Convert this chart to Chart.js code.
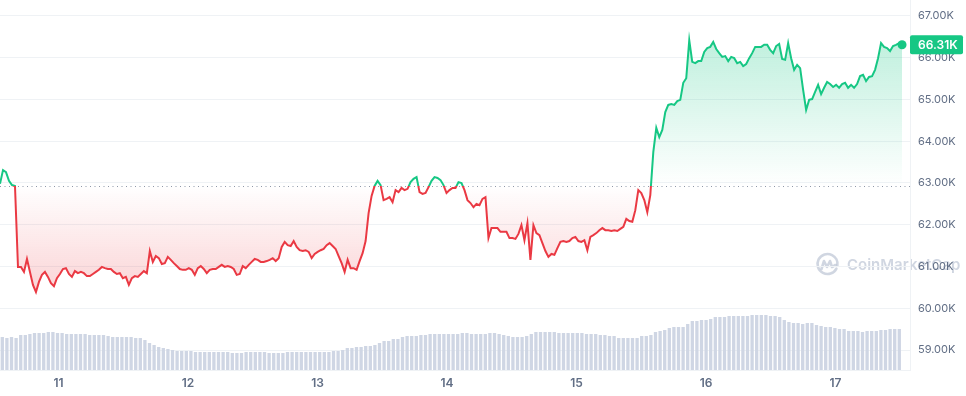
<!DOCTYPE html>
<html>
<head>
<meta charset="utf-8">
<script src="https://cdn.jsdelivr.net/npm/chart.js@4/dist/chart.umd.min.js"></script>
<style>
  html, body { margin: 0; padding: 0; background: #ffffff; }
  #wrap { width: 966px; height: 396px; }
</style>
</head>
<body>
<div id="wrap"><canvas id="c" width="966" height="396"></canvas></div>
<script>
// ---- Data (BTC price, 7 days, in thousands USD) ----
const startDay = 10.548;          // time of first sample (day of month)
const priceStepDay = 0.023141;    // days between price samples
const prices = [
  62.98, 63.31, 63.26, 63.05, 62.95, 62.93, 60.99, 60.99, 60.87, 61.18,
  60.87, 60.56, 60.39, 60.63, 60.80, 60.87, 60.75, 60.60, 60.53, 60.72,
  60.82, 60.94, 60.96, 60.82, 60.75, 60.89, 60.84, 60.87, 60.84, 60.77,
  60.77, 60.82, 60.87, 60.92, 60.99, 60.96, 60.94, 60.94, 60.87, 60.82,
  60.84, 60.72, 60.75, 60.56, 60.72, 60.77, 60.75, 60.82, 60.89, 60.84,
  61.37, 61.11, 61.25, 61.20, 61.06, 61.08, 61.23, 61.16, 61.08, 61.01,
  60.94, 60.92, 60.92, 60.96, 60.92, 60.80, 60.96, 61.01, 60.94, 60.84,
  60.92, 60.94, 60.94, 60.99, 61.04, 60.99, 61.01, 60.99, 60.94, 60.80,
  60.82, 61.01, 60.96, 61.04, 61.11, 61.18, 61.16, 61.11, 61.11, 61.13,
  61.16, 61.20, 61.13, 61.20, 61.47, 61.59, 61.51, 61.49, 61.61, 61.47,
  61.39, 61.37, 61.39, 61.35, 61.20, 61.30, 61.35, 61.39, 61.42, 61.51,
  61.56, 61.49, 61.42, 61.25, 61.08, 60.87, 61.16, 60.96, 60.96, 60.92,
  61.13, 61.32, 61.61, 62.28, 62.69, 62.93, 63.05, 62.95, 62.59, 62.62,
  62.66, 62.54, 62.83, 62.78, 62.88, 62.83, 62.86, 63.02, 63.10, 63.14,
  62.78, 62.74, 62.76, 62.90, 63.05, 63.14, 63.12, 63.07, 62.95, 62.76,
  62.83, 62.88, 62.88, 63.02, 63.00, 62.83, 62.59, 62.52, 62.42, 62.50,
  62.47, 62.62, 62.66, 61.68, 61.92, 61.92, 61.92, 61.83, 61.83, 61.83,
  61.68, 61.68, 61.66, 61.78, 61.99, 61.63, 62.04, 61.16, 61.99, 61.80,
  61.75, 61.56, 61.37, 61.23, 61.30, 61.28, 61.44, 61.59, 61.61, 61.59,
  61.61, 61.68, 61.71, 61.61, 61.59, 61.63, 61.39, 61.71, 61.75, 61.80,
  61.87, 61.92, 61.87, 61.87, 61.85, 61.87, 61.85, 61.90, 61.95, 62.14,
  62.09, 62.07, 62.35, 62.83, 62.76, 62.59, 62.30, 62.71, 63.74, 64.32,
  64.10, 64.27, 64.70, 64.87, 64.89, 64.87, 64.96, 64.99, 65.40, 65.51,
  66.42, 65.90, 65.87, 65.92, 65.92, 66.14, 66.23, 66.26, 66.38, 66.21,
  66.11, 66.02, 66.04, 65.92, 66.02, 65.99, 65.87, 65.90, 65.80, 65.85,
  65.99, 66.11, 66.26, 66.26, 66.26, 66.31, 66.31, 66.19, 66.11, 66.28,
  66.33, 65.97, 65.95, 66.35, 65.99, 65.71, 65.83, 65.75, 65.23, 64.75,
  64.99, 65.01, 65.18, 65.35, 65.13, 65.28, 65.42, 65.37, 65.30, 65.35,
  65.28, 65.37, 65.40, 65.28, 65.35, 65.28, 65.37, 65.56, 65.59, 65.44,
  65.54, 65.56, 65.71, 65.99, 66.35, 66.26, 66.23, 66.16, 66.28, 66.31,
  66.35, 66.31
];
const baselinePrice = 62.93;      // reference (opening) price, dotted line

// Volume bars (billions USD, relative)
const volStartDay = 10.5658;
const volStepDay = 0.035521;
const volumes = [
  33, 32, 33, 32, 35, 35, 36, 37, 37, 37,
  38, 38, 37, 37, 36, 36, 36, 36, 36, 35,
  35, 35, 35, 34, 33, 33, 33, 33, 33, 32,
  32, 30, 27, 25, 23, 22, 21, 20, 19, 19,
  19, 19, 18, 18, 18, 18, 18, 18, 18, 18,
  17, 17, 17, 18, 18, 18, 18, 18, 17, 17,
  17, 17, 18, 18, 18, 18, 18, 18, 18, 18,
  18, 18, 19, 19, 20, 22, 22, 23, 23, 24,
  24, 25, 27, 29, 29, 31, 31, 33, 34, 34,
  34, 35, 35, 36, 36, 36, 36, 36, 36, 36,
  37, 37, 36, 36, 36, 36, 37, 37, 36, 35,
  34, 33, 33, 33, 34, 36, 38, 38, 38, 38,
  38, 37, 37, 37, 37, 37, 37, 36, 36, 36,
  35, 35, 34, 34, 32, 32, 32, 32, 32, 34,
  34, 35, 38, 39, 40, 42, 43, 43, 43, 46,
  49, 49, 50, 50, 51, 53, 53, 53, 54, 54,
  54, 54, 54, 55, 55, 55, 55, 54, 54, 53,
  50, 48, 47, 47, 46, 47, 47, 45, 44, 43,
  43, 42, 41, 41, 39, 39, 39, 38, 39, 39,
  39, 40, 40, 41, 41, 41
];

// Axis ticks
const dayTicks = [11, 12, 13, 14, 15, 16, 17];
const priceTicks = [59, 60, 61, 62, 63, 64, 65, 66, 67];
const axisMinDay = 10.548, axisMaxDay = 17.575;
const axisMinPrice = 58.521, axisMaxPrice = 67.383;
const volAxisMax = 370;

const GREEN = '#16c784', RED = '#ea3943';

const priceData = prices.map((p, i) => ({ x: startDay + i * priceStepDay, y: p }));
const volData = volumes.map((v, i) => ({ x: volStartDay + i * volStepDay, y: v }));
const lastIdx = prices.length - 1;

const decor = {
  id: 'decor',
  beforeDraw(chart) {
    const ctx = chart.ctx;
    ctx.save();
    // watermark
    const cx = 827.5, cy = 264;
    ctx.strokeStyle = 'rgba(170,181,201,0.55)';
    ctx.lineWidth = 2.6;
    ctx.lineCap = 'round'; ctx.lineJoin = 'round';
    ctx.beginPath();
    ctx.arc(cx, cy, 10, 0.15 * Math.PI, 2.05 * Math.PI);
    ctx.stroke();
    ctx.beginPath();
    ctx.moveTo(cx - 6, cy + 5);
    ctx.lineTo(cx - 3.5, cy - 3);
    ctx.lineTo(cx - 0.5, cy + 3);
    ctx.lineTo(cx + 2.5, cy - 3);
    ctx.lineTo(cx + 4.5, cy + 3);
    ctx.lineTo(cx + 8, cy + 1);
    ctx.stroke();
    ctx.fillStyle = 'rgba(170,181,201,0.55)';
    ctx.font = '600 15px Inter';
    ctx.textBaseline = 'middle';
    ctx.fillText('CoinMarketCap', 847, cy + 1);
    ctx.restore();
  },
  beforeDatasetsDraw(chart) {
    const ctx = chart.ctx, a = chart.chartArea;
    const y = Math.round(chart.scales.y.getPixelForValue(baselinePrice)) + 0.5;
    ctx.save();
    ctx.strokeStyle = '#8f98a8';
    ctx.lineWidth = 1;
    ctx.setLineDash([1, 3.5]);
    ctx.beginPath();
    ctx.moveTo(a.left, y);
    ctx.lineTo(a.right, y);
    ctx.stroke();
    ctx.restore();
  },
  afterDraw(chart) {
    const ctx = chart.ctx, a = chart.chartArea;
    const y = chart.scales.y.getPixelForValue(prices[lastIdx]);
    ctx.save();
    ctx.fillStyle = GREEN;
    const x0 = a.right, w = 53, h = 19;
    ctx.beginPath();
    if (ctx.roundRect) ctx.roundRect(x0, y - h / 2, w, h, 2); else ctx.rect(x0, y - h / 2, w, h);
    ctx.fill();
    ctx.fillStyle = '#ffffff';
    ctx.font = '600 12px Inter';
    ctx.textBaseline = 'middle';
    ctx.textAlign = 'left';
    ctx.fillText((prices[lastIdx]).toFixed(2) + 'K', x0 + 8, y + 0.5);
    ctx.restore();
  }
};

const chart = new Chart(document.getElementById('c'), {
  data: {
    datasets: [
      {
        type: 'line',
        data: priceData,
        yAxisID: 'y',
        borderColor: GREEN,
        borderWidth: 2,
        tension: 0,
        pointRadius: (c) => c.dataIndex === lastIdx ? 4.5 : 0,
        pointBackgroundColor: GREEN,
        pointBorderWidth: 0,
        fill: { target: { value: baselinePrice }, above: 'rgba(22,199,132,0.2)', below: 'rgba(234,57,67,0.15)' },
        order: 0
      },
      {
        type: 'bar',
        data: volData,
        yAxisID: 'y2',
        backgroundColor: '#cfd6e4',
        borderWidth: 0,
        barPercentage: 0.72,
        categoryPercentage: 1,
        order: 1
      }
    ]
  },
  options: {
    responsive: false,
    devicePixelRatio: 1,
    animation: false,
    layout: { padding: 0, autoPadding: false },
    plugins: { legend: { display: false }, tooltip: { enabled: false } },
    scales: {
      x: {
        type: 'linear',
        offset: false,
        min: axisMinDay, max: axisMaxDay,
        afterBuildTicks: (ax) => { ax.ticks = dayTicks.map(v => ({ value: v })); },
        ticks: {
          autoSkip: false, maxRotation: 0, padding: 6,
          color: '#616e85', font: { family: 'Inter', size: 12, weight: '600' },
          callback: (v) => String(v)
        },
        grid: { display: false, drawTicks: false, offset: false },
        border: { display: true, color: '#eff2f5' },
        afterFit: (ax) => { ax.height = 26; ax.paddingLeft = 0; ax.paddingRight = 0; }
      },
      y: {
        position: 'right',
        min: axisMinPrice, max: axisMaxPrice,
        afterBuildTicks: (ax) => { ax.ticks = priceTicks.map(v => ({ value: v })); },
        ticks: {
          padding: 8,
          color: '#616e85', font: { family: 'Inter', size: 11 },
          callback: (v) => Number(v).toFixed(2) + 'K'
        },
        grid: { color: '#eff2f5', drawTicks: false },
        border: { display: true, color: '#eff2f5' },
        afterFit: (ax) => { ax.width = 56; ax.paddingTop = 0; ax.paddingBottom = 0; }
      },
      y2: {
        display: false,
        min: 0, max: volAxisMax
      }
    }
  },
  plugins: [decor]
});

// gradients depend on the scale geometry
(function () {
  const a = chart.chartArea, ys = chart.scales.y, ctx = chart.ctx;
  const by = ys.getPixelForValue(baselinePrice);
  const topY = ys.getPixelForValue(Math.max(...prices));
  const botY = ys.getPixelForValue(Math.min(...prices));
  const t = Math.min(1, Math.max(0, (by - a.top) / (a.bottom - a.top)));
  const lineG = ctx.createLinearGradient(0, a.top, 0, a.bottom);
  lineG.addColorStop(0, GREEN); lineG.addColorStop(t, GREEN);
  lineG.addColorStop(t, RED); lineG.addColorStop(1, RED);
  const up = ctx.createLinearGradient(0, topY, 0, by);
  up.addColorStop(0, 'rgba(22,199,132,0.27)');
  up.addColorStop(1, 'rgba(22,199,132,0.0)');
  const down = ctx.createLinearGradient(0, by, 0, botY);
  down.addColorStop(0, 'rgba(234,57,67,0.0)');
  down.addColorStop(1, 'rgba(234,57,67,0.22)');
  const ds = chart.data.datasets[0];
  ds.borderColor = lineG;
  ds.fill = { target: { value: baselinePrice }, above: up, below: down };
  chart.update('none');
})();
</script>
</body>
</html>
